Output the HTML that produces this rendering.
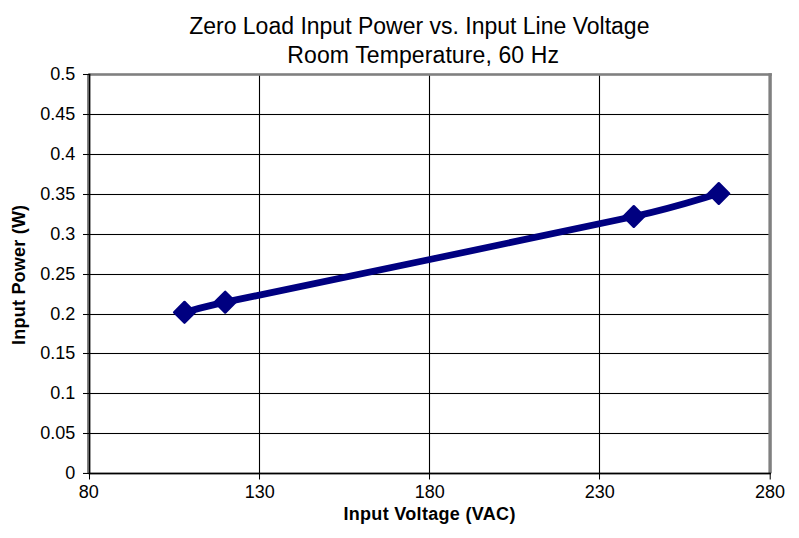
<!DOCTYPE html>
<html><head><meta charset="utf-8"><title>Chart</title>
<style>html,body{margin:0;padding:0;background:#fff;overflow:hidden}body{width:799px;height:538px;font-family:"Liberation Sans",sans-serif}</style>
</head><body>
<svg width="799" height="538" viewBox="0 0 799 538" style="display:block">
<rect x="0" y="0" width="799" height="538" fill="#fff"/>
<rect x="89" y="432.97" width="680" height="1.06" fill="#000"/>
<rect x="89" y="392.97" width="680" height="1.06" fill="#000"/>
<rect x="89" y="352.97" width="680" height="1.06" fill="#000"/>
<rect x="89" y="313.97" width="680" height="1.06" fill="#000"/>
<rect x="89" y="273.97" width="680" height="1.06" fill="#000"/>
<rect x="89" y="233.97" width="680" height="1.06" fill="#000"/>
<rect x="89" y="193.97" width="680" height="1.06" fill="#000"/>
<rect x="89" y="153.97" width="680" height="1.06" fill="#000"/>
<rect x="89" y="113.97" width="680" height="1.06" fill="#000"/>
<rect x="258.95" y="75" width="1.1" height="398" fill="#000"/>
<rect x="428.95" y="75" width="1.1" height="398" fill="#000"/>
<rect x="598.95" y="75" width="1.1" height="398" fill="#000"/>
<rect x="88.2" y="73.2" width="683.6" height="2.6" fill="#808080"/>
<rect x="768.4" y="73.2" width="3.4" height="400.1" fill="#808080"/>
<rect x="87.0" y="74.6" width="1.8" height="399" fill="#808080"/>
<rect x="88.7" y="73.8" width="1.7" height="400.3" fill="#000"/>
<rect x="88.7" y="472.6" width="682.2" height="1.8" fill="#000"/>
<rect x="83" y="472.93" width="6.5" height="1.04" fill="#000"/>
<rect x="83" y="432.98" width="6.5" height="1.04" fill="#000"/>
<rect x="83" y="392.98" width="6.5" height="1.04" fill="#000"/>
<rect x="83" y="352.98" width="6.5" height="1.04" fill="#000"/>
<rect x="83" y="313.98" width="6.5" height="1.04" fill="#000"/>
<rect x="83" y="273.98" width="6.5" height="1.04" fill="#000"/>
<rect x="83" y="233.98" width="6.5" height="1.04" fill="#000"/>
<rect x="83" y="193.98" width="6.5" height="1.04" fill="#000"/>
<rect x="83" y="153.98" width="6.5" height="1.04" fill="#000"/>
<rect x="83" y="113.98" width="6.5" height="1.04" fill="#000"/>
<rect x="83" y="73.98" width="6.5" height="1.04" fill="#000"/>
<rect x="88.98" y="473" width="1.04" height="6.5" fill="#000"/>
<rect x="258.98" y="473" width="1.04" height="6.5" fill="#000"/>
<rect x="428.98" y="473" width="1.04" height="6.5" fill="#000"/>
<rect x="598.98" y="473" width="1.04" height="6.5" fill="#000"/>
<rect x="769.68" y="473" width="1.04" height="6.5" fill="#000"/>
<path d="M184.50 312.30 C191.28 310.62 204.69 306.57 225.20 302.20 C300.08 286.23 551.53 234.62 633.80 216.50 C676.80 207.03 704.63 197.33 718.80 193.50" fill="none" stroke="#000080" stroke-width="6.8" stroke-linejoin="round" stroke-linecap="butt"/>
<path d="M174.15 312.30 L184.50 301.95 L194.85 312.30 L184.50 322.65 Z" fill="#000080" stroke="#000080" stroke-width="2.4" stroke-linejoin="round"/>
<path d="M214.85 302.20 L225.20 291.85 L235.55 302.20 L225.20 312.55 Z" fill="#000080" stroke="#000080" stroke-width="2.4" stroke-linejoin="round"/>
<path d="M623.45 216.50 L633.80 206.15 L644.15 216.50 L633.80 226.85 Z" fill="#000080" stroke="#000080" stroke-width="2.4" stroke-linejoin="round"/>
<path d="M708.45 193.50 L718.80 183.15 L729.15 193.50 L718.80 203.85 Z" fill="#000080" stroke="#000080" stroke-width="2.4" stroke-linejoin="round"/>
<text x="419.3" y="34.0" text-anchor="middle" font-family="Liberation Sans, sans-serif" font-size="23">Zero Load Input Power vs. Input Line Voltage</text>
<text x="423.1" y="63.3" text-anchor="middle" font-family="Liberation Sans, sans-serif" font-size="23" textLength="271.7" lengthAdjust="spacing">Room Temperature, 60 Hz</text>
<text x="75.2" y="479.25" text-anchor="end" font-family="Liberation Sans, sans-serif" font-size="18">0</text>
<text x="75.2" y="439.30" text-anchor="end" font-family="Liberation Sans, sans-serif" font-size="18">0.05</text>
<text x="75.2" y="399.30" text-anchor="end" font-family="Liberation Sans, sans-serif" font-size="18">0.1</text>
<text x="75.2" y="359.30" text-anchor="end" font-family="Liberation Sans, sans-serif" font-size="18">0.15</text>
<text x="75.2" y="320.30" text-anchor="end" font-family="Liberation Sans, sans-serif" font-size="18">0.2</text>
<text x="75.2" y="280.30" text-anchor="end" font-family="Liberation Sans, sans-serif" font-size="18">0.25</text>
<text x="75.2" y="240.30" text-anchor="end" font-family="Liberation Sans, sans-serif" font-size="18">0.3</text>
<text x="75.2" y="200.30" text-anchor="end" font-family="Liberation Sans, sans-serif" font-size="18">0.35</text>
<text x="75.2" y="160.30" text-anchor="end" font-family="Liberation Sans, sans-serif" font-size="18">0.4</text>
<text x="75.2" y="120.30" text-anchor="end" font-family="Liberation Sans, sans-serif" font-size="18">0.45</text>
<text x="75.2" y="80.30" text-anchor="end" font-family="Liberation Sans, sans-serif" font-size="18">0.5</text>
<text x="88.80" y="497.8" text-anchor="middle" font-family="Liberation Sans, sans-serif" font-size="18">80</text>
<text x="259.70" y="497.8" text-anchor="middle" font-family="Liberation Sans, sans-serif" font-size="18">130</text>
<text x="429.70" y="497.8" text-anchor="middle" font-family="Liberation Sans, sans-serif" font-size="18">180</text>
<text x="599.70" y="497.8" text-anchor="middle" font-family="Liberation Sans, sans-serif" font-size="18">230</text>
<text x="769.90" y="497.8" text-anchor="middle" font-family="Liberation Sans, sans-serif" font-size="18">280</text>
<text x="429.4" y="520" text-anchor="middle" font-family="Liberation Sans, sans-serif" font-size="18" font-weight="bold" textLength="172" lengthAdjust="spacing">Input Voltage (VAC)</text>
<text transform="translate(24.8,274.9) rotate(-90)" text-anchor="middle" font-family="Liberation Sans, sans-serif" font-size="18" font-weight="bold" textLength="140" lengthAdjust="spacing">Input Power (W)</text>
</svg>
</body></html>
